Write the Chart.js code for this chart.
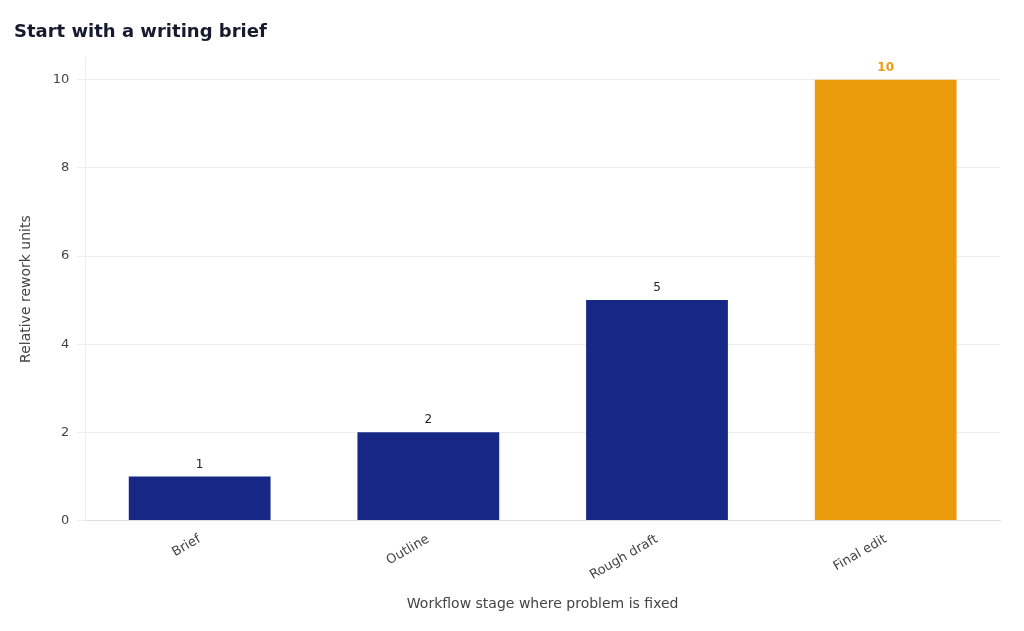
<!DOCTYPE html>
<html><head><meta charset="utf-8">
<script src="https://cdn.jsdelivr.net/npm/chart.js@4"></script>
<style>html,body{margin:0;padding:0;background:#fff}#wrap{width:1024px;height:631px}</style>
</head><body><div id="wrap"><canvas id="c"></canvas></div>
<script>
const categories = ["Brief","Outline","Rough draft","Final edit"];
const values = [1,2,5,10];
const colors = ["#162785","#162785","#162785","#EA9B0C"];
const labelColors = ["#222222","#222222","#222222","#EA9B0C"];
const labelPlugin = {
  id:'vals',
  afterDatasetsDraw(chart){
    const ctx=chart.ctx, meta=chart.getDatasetMeta(0);
    meta.data.forEach((bar,i)=>{
      ctx.save();
      ctx.font=(i===3?'bold ':'')+'12px "DejaVu Sans", sans-serif';
      ctx.fillStyle=labelColors[i];ctx.textAlign='center';ctx.textBaseline='bottom';
      ctx.fillText(String(values[i]),bar.x,bar.y-6);
      ctx.restore();
    });
  }
};
new Chart(document.getElementById('c'),{
  type:'bar',
  data:{labels:categories,datasets:[{data:values,backgroundColor:colors,barPercentage:0.62,categoryPercentage:1}]},
  options:{
    responsive:true,maintainAspectRatio:false,animation:false,
    layout:{padding:{left:14,right:24,top:10,bottom:14}},
    plugins:{legend:{display:false},tooltip:{enabled:false},
      title:{display:true,text:'Start with a writing brief',align:'start',color:'#161a2e',
        font:{family:'"DejaVu Sans", sans-serif',size:18,weight:'bold'},padding:{top:12,bottom:14}}},
    scales:{
      x:{grid:{display:false},border:{color:'#dddddd'},
        ticks:{color:'#444',font:{family:'"DejaVu Sans", sans-serif',size:13},maxRotation:30,minRotation:30},
        title:{display:true,text:'Workflow stage where problem is fixed',color:'#444',font:{family:'"DejaVu Sans", sans-serif',size:14},padding:{top:10}}},
      y:{min:0,max:10.5,grid:{color:'#eeeeee'},border:{color:'#eeeeee'},
        afterBuildTicks(s){s.ticks=[0,2,4,6,8,10].map(v=>({value:v}));},
        ticks:{color:'#444',font:{family:'"DejaVu Sans", sans-serif',size:13},padding:8},
        title:{display:true,text:'Relative rework units',color:'#444',font:{family:'"DejaVu Sans", sans-serif',size:14},padding:{bottom:10}}}
    }
  },
  plugins:[labelPlugin]
});
</script></body></html>
